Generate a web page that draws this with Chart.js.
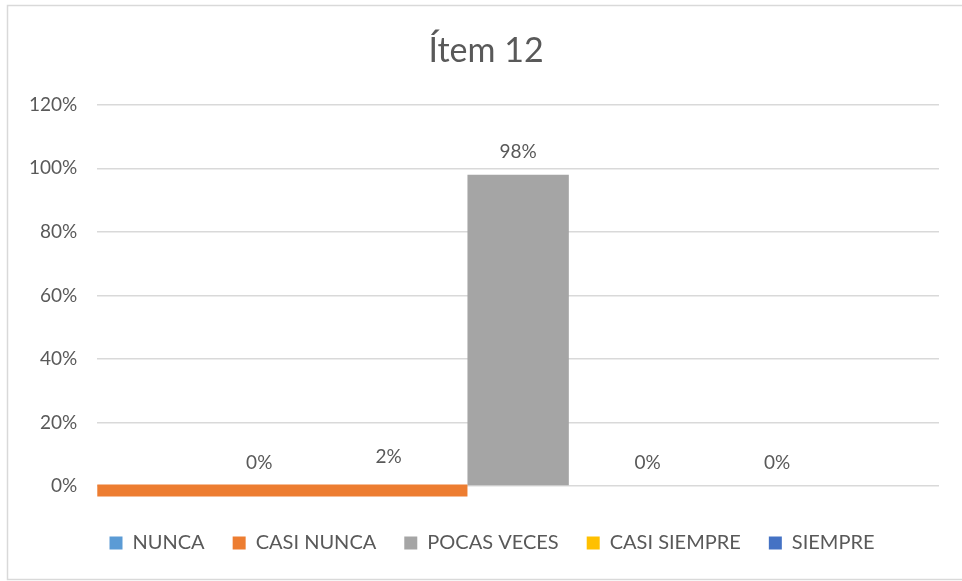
<!DOCTYPE html>
<html>
<head>
<meta charset="utf-8">
<title>Ítem 12</title>
<script src="https://cdn.jsdelivr.net/npm/chart.js@4.4.0/dist/chart.umd.min.js"></script>
<style>
  body { margin: 0; background: #fff; }
  #wrap { position: relative; width: 962px; height: 581px; }
</style>
</head>
<body>
<div id="wrap"><canvas id="itemChart"></canvas></div>
<script>
const categories = ['NUNCA', 'CASI NUNCA', 'POCAS VECES', 'CASI SIEMPRE', 'SIEMPRE'];
const values = [0, 2, 98, 0, 0];
const colors = ['#5B9BD5', '#ED7D31', '#A5A5A5', '#FFC000', '#4472C4'];
const yTicks = [0, 20, 40, 60, 80, 100, 120];

const textColor = '#595959';
const fontFamily = 'Lato, "Open Sans", sans-serif';

// the orange bar in the original is smeared along the baseline up to the grey bar
const smearBar = {
    id: 'smearBar',
    beforeDatasetDraw(chart, args) {
        if (args.index !== 1) return;
        const el = chart.getDatasetMeta(1).data[0];
        const grey = chart.getDatasetMeta(2).data[0];
        const zero = chart.scales.y.getPixelForValue(0);
        const left = chart.chartArea.left;
        const right = grey.x - grey.width / 2;
        el._saved = { x: el.x, y: el.y, base: el.base, width: el.width };
        el.x = (left + right) / 2;
        el.width = right - left;
        el.y = zero - 1.5;
        el.base = zero + 10.5;
    },
    afterDatasetDraw(chart, args) {
        if (args.index !== 1) return;
        const el = chart.getDatasetMeta(1).data[0];
        Object.assign(el, el._saved);
    }
};

// title and legend sit a little right of the page centre in the original
const nudge = {
    id: 'nudge',
    afterLayout(chart) {
        chart.titleBlock.left += 12;
        chart.titleBlock.right += 12;
        chart.legend.left += 18;
        chart.legend.right += 18;
    }
};

const valueLabels = {
    id: 'valueLabels',
    afterDatasetsDraw(chart) {
        const ctx = chart.ctx;
        const y = chart.scales.y;
        ctx.save();
        ctx.fillStyle = textColor;
        ctx.font = '19px ' + fontFamily;
        ctx.textAlign = 'center';
        ctx.textBaseline = 'middle';
        chart.data.datasets.forEach((ds, i) => {
            const el = chart.getDatasetMeta(i).data[0];
            ctx.fillText(ds.data[0] + '%', el.x, y.getPixelForValue(ds.data[0]) - 23);
        });
        ctx.restore();
    }
};

const frame = {
    id: 'frame',
    afterDraw(chart) {
        const ctx = chart.ctx;
        ctx.save();
        ctx.strokeStyle = '#d9d9d9';
        ctx.lineWidth = 1.5;
        ctx.strokeRect(7.5, 5.5, 970, 574);
        ctx.restore();
    }
};

const ctx = document.getElementById('itemChart').getContext('2d');
new Chart(ctx, {
    type: 'bar',
    data: {
        labels: [''],
        datasets: categories.map((c, i) => ({
            label: c,
            data: [values[i]],
            backgroundColor: colors[i],
            categoryPercentage: 0.769,
            barPercentage: 0.783,
            clip: false
        }))
    },
    options: {
        responsive: true,
        maintainAspectRatio: false,
        animation: false,
        layout: { padding: { top: 8, left: 9, right: 23, bottom: 18 } },
        scales: {
            x: {
                grid: { display: false },
                border: { display: false },
                ticks: { display: false },
                afterFit: axis => { axis.height = 19; }
            },
            y: {
                min: 0,
                max: 120,
                afterBuildTicks: axis => { axis.ticks = yTicks.map(v => ({ value: v })); },
                border: { display: false },
                grid: { color: '#d9d9d9', lineWidth: 1.5, drawTicks: false },
                ticks: {
                    padding: 20,
                    color: textColor,
                    font: { size: 19, family: fontFamily },
                    callback: v => v + '%'
                }
            }
        },
        plugins: {
            title: {
                display: true,
                text: 'Ítem 12',
                color: textColor,
                font: { size: 34, weight: 'normal', family: fontFamily },
                padding: { top: 23, bottom: 33 }
            },
            legend: {
                position: 'bottom',
                labels: {
                    boxWidth: 13,
                    boxHeight: 13,
                    padding: 28,
                    color: textColor,
                    font: { size: 20, family: fontFamily }
                }
            },
            tooltip: { enabled: false }
        }
    },
    plugins: [smearBar, nudge, valueLabels, frame]
});
</script>
</body>
</html>
